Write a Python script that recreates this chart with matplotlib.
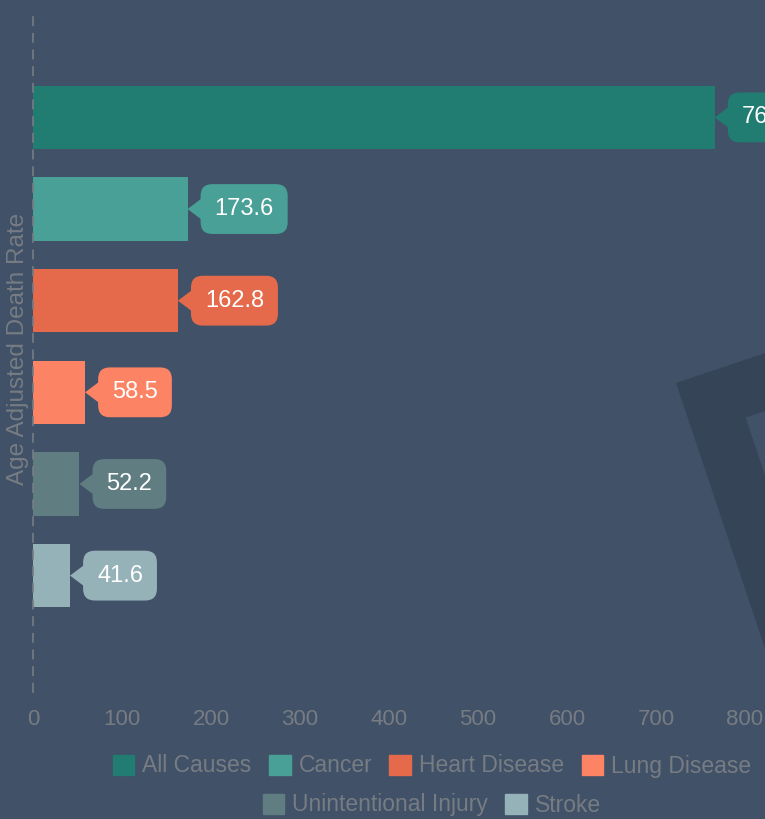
import matplotlib
matplotlib.use('Agg')
import matplotlib.pyplot as plt
import matplotlib.transforms as mtransforms
from matplotlib.patches import Polygon, Patch
import numpy as np

plt.rcParams['font.family'] = ['Liberation Sans', 'DejaVu Sans']

categories = ["All Causes", "Cancer", "Heart Disease", "Lung Disease",
              "Unintentional Injury", "Stroke"]
values = [766, 173.6, 162.8, 58.5, 52.2, 41.6]
colors = ["#217d72", "#48a096", "#e5694b", "#fc8363", "#607d82", "#95b2b8"]
xticks = [0, 100, 200, 300, 400, 500, 600, 700, 800]

BG = "#405168"
GREY = "#777c83"
W, H = 765, 819

fig = plt.figure(figsize=(W / 100, H / 100), dpi=100, facecolor=BG)


def px(x, y):
    # image pixel (top-left origin) -> display coords
    return (x, H - y)


# background watermark (rotated square frame)
u = np.array([0.948, -0.318])
v = np.array([0.318, 0.948])
p0 = np.array([676.0, 383.0])
L, t = 420, 55
outer = [p0, p0 + L * u, p0 + L * u + L * v, p0 + L * v]
q0 = p0 + t * (u + v)
inner = [q0, q0 + (L - 2 * t) * u, q0 + (L - 2 * t) * (u + v), q0 + (L - 2 * t) * v]
fig.patches.append(Polygon([px(*p) for p in outer], closed=True, fc="#364458", ec="none",
                           transform=mtransforms.IdentityTransform(), zorder=0))
fig.patches.append(Polygon([px(*p) for p in inner], closed=True, fc=BG, ec="none",
                           transform=mtransforms.IdentityTransform(), zorder=0.1))

# axes: 0 at x=33px, 89 px per 100 units, runs off the right edge
ax = fig.add_axes([33 / W, (H - 692) / H, 900 * 0.89 / W, 680 / H])
ax.set_facecolor("none")
ax.set_zorder(2)

ypos = np.arange(len(categories))
ax.barh(ypos, values, height=0.69, color=colors, zorder=2)
ax.set_xlim(0, 900)
ax.set_ylim(6.27, -1.15)

for s in ["top", "right", "bottom"]:
    ax.spines[s].set_visible(False)
ax.spines["left"].set_color(GREY)
ax.spines["left"].set_linestyle((0, (5, 5)))
ax.spines["left"].set_linewidth(1.2)

ax.set_yticks([])
ax.set_xticks(xticks)
ax.set_xticklabels([str(x) for x in xticks])
ax.tick_params(axis='x', length=0, pad=12.5, labelsize=16, labelcolor=GREY)

fig.text(18 / W, 1 - 349 / H, "Age Adjusted Death Rate", rotation=90, ha="center",
         va="center", fontsize=17.5, color=GREY)

# callout labels
for i, (val, c) in enumerate(zip(values, colors)):
    lab = "{0}".format(val)
    ax.annotate(lab, xy=(val, i), xytext=(27, 0), textcoords="offset pixels",
                ha="left", va="center", color="white", fontsize=17, zorder=4,
                bbox=dict(boxstyle="round,pad=0.59,rounding_size=0.5", fc=c, ec="none"))
    tr = mtransforms.ScaledTranslation(val, i, ax.transData)
    ax.add_patch(Polygon([(0, 0), (16, 12), (16, -12)], closed=True, fc=c, ec="none",
                         transform=mtransforms.IdentityTransform() + tr, zorder=3,
                         clip_on=False))

# legend in two centred rows
handles = [Patch(fc=c, ec=c) for c in colors]
common = dict(loc="center", frameon=False, fontsize=16.5, labelcolor=GREY,
              handlelength=0.95, handleheight=0.95, handletextpad=0.35,
              columnspacing=0.75, borderpad=0, borderaxespad=0)
leg1 = fig.legend(handles[:4], categories[:4], ncol=4,
                  bbox_to_anchor=(432 / W, 1 - 766 / H), **common)
leg2 = fig.legend(handles[4:], categories[4:], ncol=2,
                  bbox_to_anchor=(432 / W, 1 - 805 / H), **common)

fig.savefig("out.png", dpi=100, facecolor=BG)
